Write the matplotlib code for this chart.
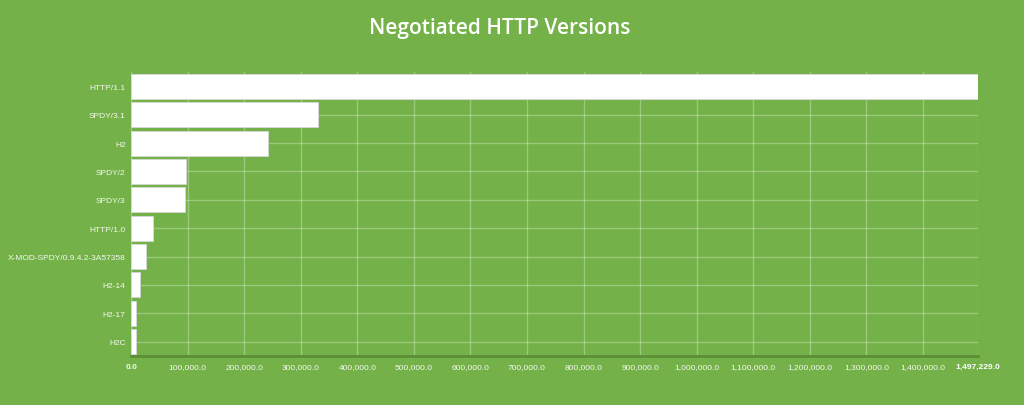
import matplotlib.pyplot as plt
from matplotlib.ticker import FuncFormatter

versions = ["HTTP/1.1", "SPDY/3.1", "H2", "SPDY/2", "SPDY/3", "HTTP/1.0",
            "X-MOD-SPDY/0.9.4.2-3A57358", "H2-14", "H2-17", "H2C"]
counts = [1497229, 330000, 242000, 96500, 96000, 39500, 26500, 16000, 9500, 9500]
x_ticks = [0, 100000, 200000, 300000, 400000, 500000, 600000, 700000,
           800000, 900000, 1000000, 1100000, 1200000, 1300000, 1400000, 1497229]

bg = "#74b249"

fig = plt.figure(figsize=(10.24, 4.06), dpi=100, facecolor=bg)
ax = fig.add_axes([0.128, 0.121, 0.827, 0.699], facecolor=bg)

ypos = list(range(len(versions)))
ax.barh(ypos, counts, height=0.88, color="white", edgecolor="#d8d8d8",
        linewidth=0.6, zorder=3)

ax.set_xlim(0, max(counts))
ax.set_ylim(len(versions) - 0.5, -0.5)

ax.set_yticks(ypos)
ax.set_yticklabels(versions)
ax.set_xticks(x_ticks)
ax.xaxis.set_major_formatter(FuncFormatter(lambda v, p: f"{v:,.1f}"))

ax.grid(True, color="white", alpha=0.3, linewidth=0.9, zorder=0)
ax.tick_params(length=0, colors="white", labelsize=6.0, pad=4)
ax.tick_params(axis="x", pad=5)
for lbl in ax.get_xticklabels() + ax.get_yticklabels():
    lbl.set_family(["Liberation Sans", "DejaVu Sans"])
    lbl.set_color("#f4f8ef")
xl = ax.get_xticklabels()
xl[0].set_fontweight("bold")
xl[-1].set_fontweight("bold")
xl[-1].set_color("white")

for side in ["top", "right", "left"]:
    ax.spines[side].set_visible(False)
ax.spines["bottom"].set_color("#5b8f37")
ax.spines["bottom"].set_linewidth(2)
ax.spines["bottom"].set_zorder(4)

fig.text(0.488, 0.93, "Negotiated HTTP Versions", ha="center", va="center",
         color="white", fontsize=15, fontweight="semibold",
         family=["Open Sans", "DejaVu Sans"])

fig.savefig("out.png", dpi=100, facecolor=bg)
